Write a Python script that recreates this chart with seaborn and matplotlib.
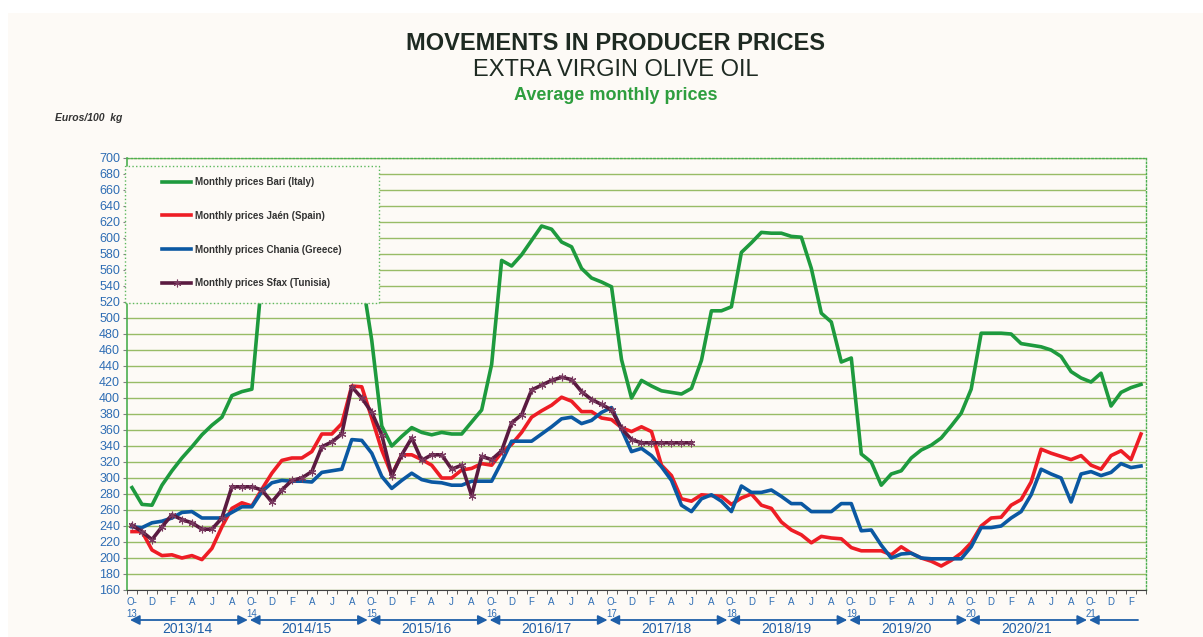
import numpy as np
import pandas as pd
import matplotlib.pyplot as plt
import seaborn as sns
from matplotlib.patches import Rectangle

plt.rcParams['font.family'] = ['Liberation Sans', 'DejaVu Sans']

# ------------------------------
# Data (EUR/100 kg, Oct-13 .. Mar-22)
# ------------------------------
month_letters = ["O", "N", "D", "J", "F", "M", "A", "M", "J", "J", "A", "S"]
seasons = ["2013/14", "2014/15", "2015/16", "2016/17",
           "2017/18", "2018/19", "2019/20", "2020/21"]

bari = [288, 267, 266, 291, 309, 325, 339, 354, 366, 376, 403, 408,
        411, 550, 575, 590, 595, 600, 610, 615, 610, 600, 590, 552,
        472, 365, 340, 352, 363, 357, 354, 357, 355, 355, 370, 385,
        442, 572, 565, 579, 597, 615, 611, 595, 589, 562, 550, 545,
        539, 448, 400, 422, 415, 409, 407, 405, 412, 447, 509, 509,
        514, 582, 594, 607, 606, 606, 602, 601, 562, 506, 495, 445,
        450, 330, 320, 291, 305, 309, 325, 335, 341, 350, 365, 381,
        411, 481, 481, 481, 480, 468, 466, 464, 460, 452, 433, 425,
        420, 431, 390, 407, 413, 417]

jaen = [233, 233, 210, 203, 204, 200, 203, 198, 212, 239, 262, 269,
        265, 286, 306, 322, 325, 325, 333, 355, 355, 368, 415, 414,
        375, 335, 304, 329, 329, 323, 316, 300, 300, 310, 312, 318,
        316, 332, 342, 357, 376, 384, 391, 401, 396, 383, 383, 375,
        373, 363, 358, 364, 358, 316, 303, 274, 271, 279, 278, 277,
        267, 275, 280, 266, 262, 245, 235, 229, 219, 227, 225, 224,
        213, 209, 209, 209, 204, 214, 206, 200, 196, 190, 197, 206,
        219, 240, 250, 251, 266, 273, 295, 336, 331, 327, 323, 328,
        316, 311, 328, 334, 323, 355]

chania = [239, 238, 244, 246, 250, 257, 258, 250, 250, 250, 257, 264,
          264, 283, 294, 297, 296, 296, 295, 307, 309, 311, 348, 347,
          331, 302, 287, 297, 306, 298, 295, 294, 291, 291, 296, 296,
          296, 320, 346, 346, 346, 355, 364, 374, 376, 368, 372, 382,
          388, 361, 333, 337, 328, 314, 297, 266, 258, 274, 279, 271,
          258, 290, 282, 282, 285, 277, 268, 268, 258, 258, 258, 268,
          268, 234, 235, 216, 200, 205, 206, 200, 199, 199, 199, 199,
          214, 238, 238, 240, 250, 258, 279, 311, 305, 300, 270, 305,
          308, 303, 307, 318, 313, 315]

sfax = [241, 233, 223, 239, 254, 248, 244, 236, 236, 250, 289, 289,
        289, 285, 270, 285, 297, 300, 308, 339, 345, 355, 414, 400,
        382, 354, 303, 329, 350, 322, 329, 329, 311, 316, 278, 327,
        323, 334, 369, 379, 410, 416, 422, 426, 423, 408, 398, 392,
        385, 362, 348, 344, 344, 344, 344, 344, 344]

series = [
    ("Monthly prices Bari (Italy)", bari, "#1E9A3E"),
    ("Monthly prices Jaén (Spain)", jaen, "#EE1D25"),
    ("Monthly prices Chania (Greece)", chania, "#0B58A2"),
    ("Monthly prices Sfax (Tunisia)", sfax, "#5A1A40"),
]

frames = []
for name, vals, _ in series:
    frames.append(pd.DataFrame({"idx": np.arange(len(vals)), "price": vals, "series": name}))
df = pd.concat(frames, ignore_index=True)

n = len(bari)
xlabels = []
for i in range(0, n, 2):
    m = month_letters[i % 12]
    xlabels.append(f"O-\n{13 + i // 12}" if m == "O" else m)

# ------------------------------
# Figure
# ------------------------------
W, H = 1203, 637
fig = plt.figure(figsize=(W / 100, H / 100), dpi=100, facecolor="white")
cream = "#FDFAF6"
fig.add_artist(Rectangle((8 / W, 0), 1 - 8 / W, 1 - 13 / H, transform=fig.transFigure,
                         facecolor=cream, edgecolor="none", zorder=-1))

ax = fig.add_axes([127 / W, 1 - 590 / H, (1146 - 127) / W, (590 - 158) / H])
ax.set_facecolor("none")

for name, vals, color in series:
    kw = {}
    if "Sfax" in name:
        kw = dict(marker=(6, 2, 0), markersize=5.5, markeredgewidth=0.8,
                  markeredgecolor="#7A3A60")
    sns.lineplot(data=df[df["series"] == name], x="idx", y="price", color=color,
                 linewidth=2.6, ax=ax, label=name, zorder=3, **kw)

handles, labels = ax.get_legend_handles_labels()
ax.get_legend().remove()

ax.set_xlim(-0.5, n - 0.5)
ax.set_ylim(160, 700)
ax.set_yticks(np.arange(160, 701, 20))
ax.yaxis.grid(True, color="#98BC66", linewidth=1.0)
ax.set_axisbelow(True)
ax.set_xlabel("")
ax.set_ylabel("")
ax.tick_params(axis="y", labelsize=9, labelcolor="#2E6DB4", color="#808080",
               length=3, pad=2)

ax.set_xticks(np.arange(0, n, 2))
ax.set_xticklabels(xlabels, fontsize=7, color="#2E6DB4", linespacing=1.25)
ax.set_xticks(np.arange(-0.5, n, 1), minor=True)
ax.tick_params(axis="x", which="major", length=0, pad=5)
ax.tick_params(axis="x", which="minor", length=3, color="#404040")

ax.spines["left"].set_color("#4CAF50")
ax.spines["left"].set_linewidth(1.2)
ax.spines["bottom"].set_color("#404040")
for side in ["top", "right"]:
    ax.spines[side].set_color("#4CAF50")
    ax.spines[side].set_linestyle(":")
    ax.spines[side].set_linewidth(1.0)

# Season arrows under the month axis
trans = ax.get_xaxis_transform()
arrow_y = -30 / 432
label_y = -39 / 432
arrow_color = "#1F5FA8"
for k, s in enumerate(seasons):
    ax.annotate("", xy=(12 * k + 11.6, arrow_y), xytext=(12 * k - 0.2, arrow_y),
                xycoords=trans, textcoords=trans, annotation_clip=False,
                arrowprops=dict(arrowstyle="<|-|>,head_length=0.4,head_width=0.2",
                                mutation_scale=14, color=arrow_color, lw=1.3,
                                shrinkA=0, shrinkB=0))
    ax.text(12 * k + 5.5, label_y, s, transform=trans, ha="center", va="center",
            fontsize=10, color=arrow_color)
ax.annotate("", xy=(100.7, arrow_y), xytext=(96 - 0.2, arrow_y),
            xycoords=trans, textcoords=trans, annotation_clip=False,
            arrowprops=dict(arrowstyle="<|-,head_length=0.4,head_width=0.2",
                            mutation_scale=14, color=arrow_color, lw=1.3,
                            shrinkA=0, shrinkB=0))

# Legend box (opaque, covers the lines like the original)
fig.add_artist(Rectangle((125 / W, 1 - 303 / H), 254 / W, 137 / H,
                         transform=fig.transFigure, facecolor=cream,
                         edgecolor="#5DB85D", linestyle=":", linewidth=1.0, zorder=3))
leg = fig.legend(handles, labels, loc="upper left",
                 bbox_to_anchor=(162 / W, 1 - 177 / H), frameon=False,
                 prop={"size": 7, "weight": "bold"}, handlelength=3.0,
                 handletextpad=0.4, labelspacing=2.45, borderpad=0,
                 borderaxespad=0, numpoints=1)
leg.set_zorder(5)
for t in leg.get_texts():
    t.set_color("#333333")

# Titles
cx = 616 / W
fig.text(cx, 1 - 43 / H, "MOVEMENTS IN PRODUCER PRICES", ha="center", va="center",
         fontsize=17, fontweight="bold", color="#1E2A22")
fig.text(cx, 1 - 70 / H, "EXTRA VIRGIN OLIVE OIL", ha="center", va="center",
         fontsize=17, color="#1E2A22")
fig.text(cx, 1 - 96 / H, "Average monthly prices", ha="center", va="center",
         fontsize=13, fontweight="bold", color="#2E9E3E")
fig.text(55 / W, 1 - 118 / H, "Euros/100  kg", ha="left", va="center",
         fontsize=7.5, fontweight="bold", fontstyle="italic", color="#333333")

fig.savefig("out.png", dpi=100)
